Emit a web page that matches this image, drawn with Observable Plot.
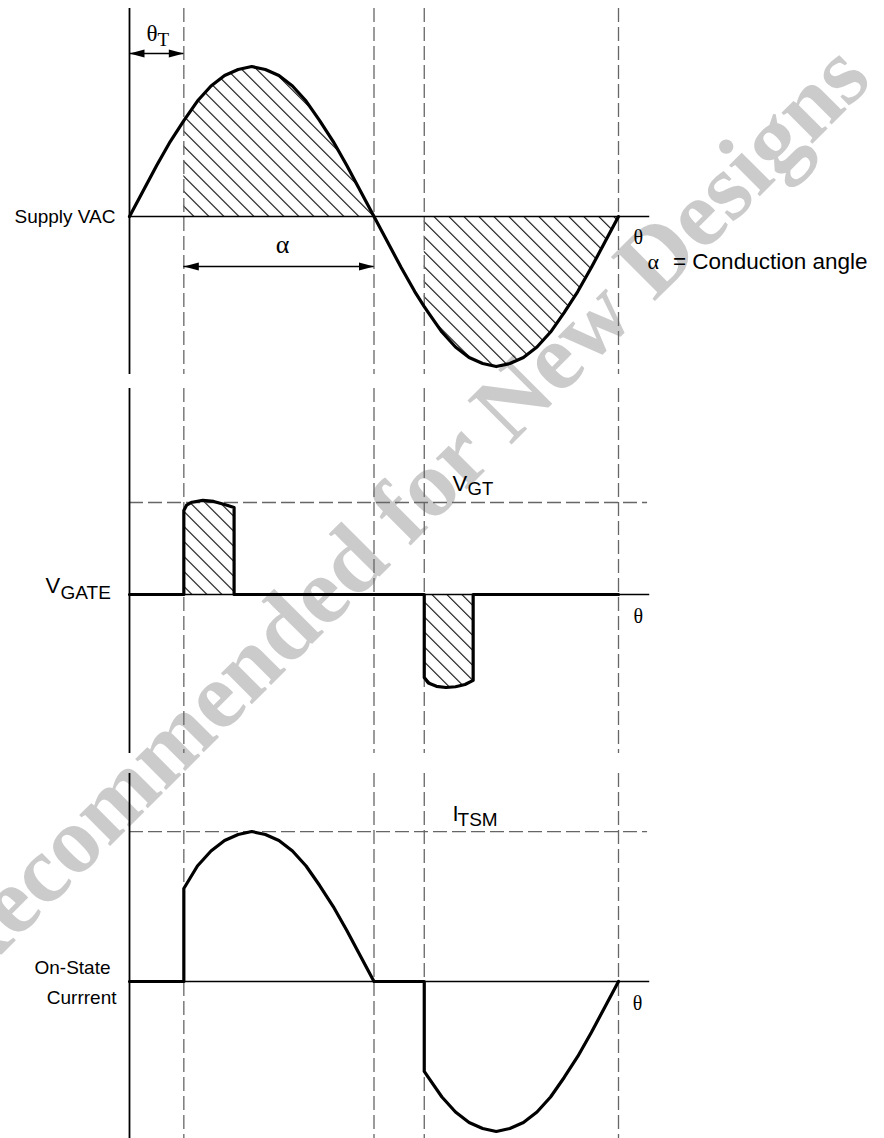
<!DOCTYPE html>
<html><head><meta charset="utf-8">
<script src="https://cdn.jsdelivr.net/npm/d3@7"></script>
<script src="https://cdn.jsdelivr.net/npm/@observablehq/plot@0.6"></script>
<style>
body{margin:0;background:#fff;}
#wrap{position:relative;width:884px;height:1138px;overflow:hidden;}
.panel{position:absolute;left:0;}
</style></head><body>
<div id="wrap">
<svg id="bg" width="884" height="1138" style="position:absolute;left:0;top:0">
  <defs>
    <pattern id="hatch" patternUnits="userSpaceOnUse" width="10.6" height="10.6" patternTransform="rotate(-45)">
      <line x1="5.3" y1="-1" x2="5.3" y2="12" stroke="#000" stroke-width="1.1"/>
    </pattern>
  </defs>
  <text x="874" y="82" text-anchor="end" transform="rotate(-45 874 82)" font-family="Liberation Serif, Times New Roman, serif" font-weight="bold" font-size="95" fill="#cbcbcb">Not Recommended for New Designs</text>
</svg>
<div id="p1" class="panel" style="top:0"></div>
<div id="p2" class="panel" style="top:380px"></div>
<div id="p3" class="panel" style="top:760px"></div>
</div>
<script>
// ---- data (theta in electrical degrees, values normalised) ----
const theta = [0,10,20,30,40,50,60,70,80,90,100,110,120,130,140,150,160,170,180,190,200,210,217,220,230,240,250,260,270,280,290,300,310,320,330,340,350,360];
const supply = [0,0.17,0.34,0.50,0.64,0.77,0.87,0.94,0.98,1.00,0.98,0.94,0.87,0.77,0.64,0.50,0.34,0.17,0,-0.17,-0.34,-0.50,-0.60,-0.64,-0.77,-0.87,-0.94,-0.98,-1.00,-0.98,-0.94,-0.87,-0.77,-0.64,-0.50,-0.34,-0.17,0];

const gateTheta = [0,40,40,42,46,54,62,70,77,77,217,217,220,226,233,240,247,253,253,360];
const gate = [0,0,0.56,0.595,0.615,0.627,0.62,0.60,0.58,0,0,-0.553,-0.59,-0.612,-0.62,-0.615,-0.60,-0.573,0,0];

const currentTheta = [0,40,40,50,60,70,80,90,100,110,120,130,140,150,160,170,180,217,217,220,230,240,250,260,270,280,290,300,310,320,330,340,350,360];
const current = [0,0,0.62,0.77,0.87,0.94,0.98,1.00,0.98,0.94,0.87,0.77,0.64,0.50,0.34,0.17,0,0,-0.60,-0.64,-0.77,-0.87,-0.94,-0.98,-1.00,-0.98,-0.94,-0.87,-0.77,-0.64,-0.50,-0.34,-0.17,0];

const firing = [40, 217];          // trigger angles
const markers = [40, 180, 217, 360]; // dashed reference angles
const vgtLevel = 0.613;
const itsmLevel = 1.0;
const axisEnd = 383;

// ---- helpers ----
const SANS = "Liberation Sans, Arial, Helvetica, sans-serif";
const SERIF = "Liberation Serif, Times New Roman, serif";
const supplyData = theta.map((t, i) => ({t, v: supply[i]}));
const gateData = gateTheta.map((t, i) => ({t, v: gate[i]}));
const currentData = currentTheta.map((t, i) => ({t, v: current[i]}));

const headRight = {draw(ctx) { ctx.moveTo(0, 0); ctx.lineTo(-15, -4); ctx.lineTo(-15, 4); ctx.closePath(); }};
const headLeft = {draw(ctx) { ctx.moveTo(0, 0); ctx.lineTo(15, -4); ctx.lineTo(15, 4); ctx.closePath(); }};

function txt(s, x, y, o = {}) {
  return Plot.text([s], {x: () => x, y: () => y, text: d => d, lineAnchor: "bottom", fill: "black",
    fontFamily: SANS, fontSize: 19, textAnchor: "start", ...o});
}
function dblArrow(x1, x2, y) {
  return [
    Plot.ruleY([y], {x1, x2, stroke: "black", strokeWidth: 1.6}),
    Plot.dot([x1], {x: d => d, y: () => y, symbol: headLeft, fill: "black", stroke: "none"}),
    Plot.dot([x2], {x: d => d, y: () => y, symbol: headRight, fill: "black", stroke: "none"})
  ];
}
function common(h, mt, mb, ydom) {
  return {width: 884, height: h, marginLeft: 129, marginRight: 266, marginTop: mt, marginBottom: mb,
    x: {domain: [0, 360], axis: null}, y: {domain: ydom, axis: null},
    style: {background: "transparent", overflow: "visible"}};
}
const dashed = {stroke: "#666", strokeWidth: 1.3, strokeDasharray: "14,5"};

// ---- panel 1: supply ----
const p1 = Plot.plot({
  ...common(380, 8, 6, [-1.053, 1.387]),
  marks: [
    Plot.areaY(supplyData.filter(d => d.t >= firing[0] && d.t <= 180), {x: "t", y: "v", fill: "url(#hatch)"}),
    Plot.areaY(supplyData.filter(d => d.t >= firing[1]), {x: "t", y: "v", fill: "url(#hatch)"}),
    Plot.ruleX(markers, dashed),
    Plot.ruleX([0], {stroke: "black", strokeWidth: 1.8}),
    Plot.ruleY([0], {x1: 0, x2: axisEnd, stroke: "black", strokeWidth: 1.6}),
    Plot.line(supplyData, {x: "t", y: "v", stroke: "black", strokeWidth: 3.2}),
    ...dblArrow(0, firing[0], 1.087),
    ...dblArrow(firing[0], 180, -0.333),
    txt("θ", 20.6, 1.173, {fontFamily: SERIF, fontSize: 23, textAnchor: "end"}),
    txt("T", 20.6, 1.14, {fontFamily: SERIF, fontSize: 19}),
    txt("α", 112.7, -0.24, {fontFamily: SERIF, fontSize: 26, textAnchor: "middle"}),
    txt("Supply VAC", 0, -0.04, {textAnchor: "end", dx: -14}),
    txt("θ", 371, -0.18, {fontFamily: SERIF, fontSize: 20}),
    txt("α", 381.4, -0.347, {fontFamily: SERIF, fontSize: 22}),
    txt("= Conduction angle", 400.1, -0.347, {fontSize: 22.5})
  ]
});
document.getElementById("p1").append(p1);

// ---- panel 2: gate voltage ----
const p2 = Plot.plot({
  ...common(380, 8, 7, [-1.06, 1.373]),
  marks: [
    Plot.areaY(gateData, {x: "t", y: "v", fill: "url(#hatch)"}),
    Plot.ruleX(markers, dashed),
    Plot.ruleY([vgtLevel], {x1: 0, x2: 381.4, ...dashed}),
    Plot.ruleX([0], {stroke: "black", strokeWidth: 1.8}),
    Plot.ruleY([0], {x1: 0, x2: axisEnd, stroke: "black", strokeWidth: 1.6}),
    Plot.line(gateData, {x: "t", y: "v", stroke: "black", strokeWidth: 3.2}),
    txt("V", 0, 0.013, {dx: -84, fontSize: 22}),
    txt("GATE", 0, -0.027, {dx: -69, fontSize: 19}),
    txt("V", 237.8, 0.693, {fontSize: 22}),
    txt("GT", 248.9, 0.66, {fontSize: 18.5}),
    txt("θ", 371, -0.193, {fontFamily: SERIF, fontSize: 20})
  ]
});
document.getElementById("p2").append(p2);

// ---- panel 3: on-state current ----
const p3 = Plot.plot({
  ...common(378, 13, 0, [-1.047, 1.387]),
  marks: [
    Plot.ruleX(markers, dashed),
    Plot.ruleY([itsmLevel], {x1: 0, x2: 381.4, ...dashed}),
    Plot.ruleX([0], {stroke: "black", strokeWidth: 1.8}),
    Plot.ruleY([0], {x1: 0, x2: axisEnd, stroke: "black", strokeWidth: 1.6}),
    Plot.line(currentData, {x: "t", y: "v", stroke: "black", strokeWidth: 3.2}),
    txt("I", 237.8, 1.073, {fontSize: 22}),
    txt("TSM", 241.5, 1.04, {fontSize: 19}),
    txt("θ", 370.4, -0.193, {fontFamily: SERIF, fontSize: 20}),
    txt("On-State", 0, 0.053, {textAnchor: "end", dx: -19}),
    txt("Currrent", 0, -0.147, {textAnchor: "end", dx: -13})
  ]
});
document.getElementById("p3").append(p3);
</script>
</body></html>
